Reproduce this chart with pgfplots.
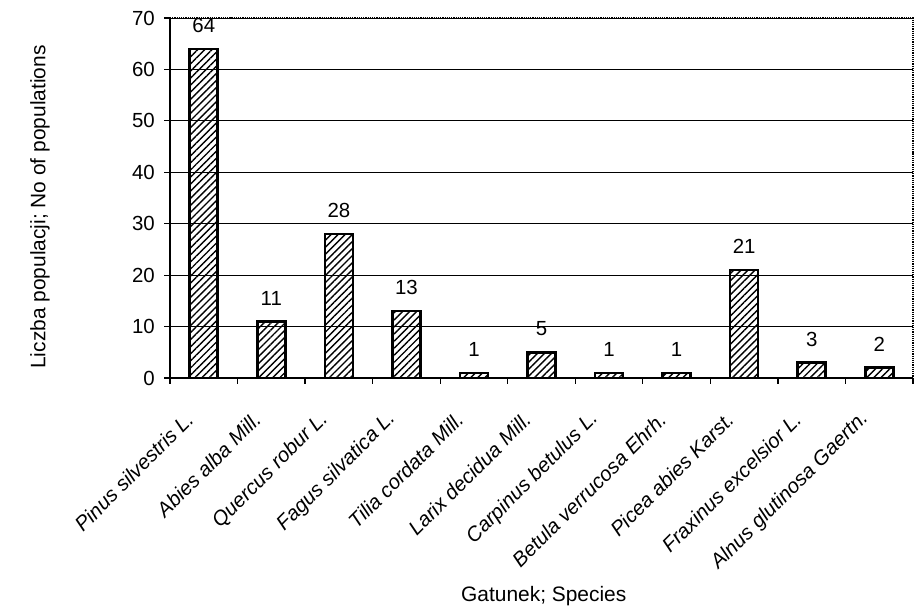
\documentclass[border=0pt]{standalone}
\usepackage{pgfplots}
\pgfplotsset{compat=1.18}
\usetikzlibrary{patterns.meta}
\usepackage{fontspec}
\setmainfont{Liberation Sans}
\begin{document}
\begin{tikzpicture}[x=1bp,y=1bp]
\useasboundingbox (0,0) rectangle (919,608);
\begin{axis}[
  at={(170bp,230bp)}, anchor=south west,
  width=743bp, height=360bp, scale only axis,
  xmin=-0.5, xmax=10.5, ymin=0, ymax=70,
  ytick={0,10,...,70},
  xtick={0,...,10},
  minor xtick={-0.5,0.5,...,10.5},
  xticklabels={Pinus silvestris L.,Abies alba Mill.,Quercus robur L.,Fagus silvatica L.,Tilia cordata Mill.,Larix decidua Mill.,Carpinus betulus L.,Betula verrucosa Ehrh.,Picea abies Karst.,Fraxinus excelsior L.,Alnus glutinosa Gaertn.},
  xtick pos=bottom, ytick pos=left,
  tick align=outside,
  major tick length=6bp, minor tick length=6bp,
  major x tick style={draw=none},
  minor x tick style={black, line width=1.2bp},
  y tick style={black, line width=1.2bp},
  ymajorgrids, grid style={black, line width=0.9bp},
  axis line style={draw=none},
  tick label style={font=\fontsize{20.5}{24}\selectfont},
  /pgf/number format/assume math mode=true,
  xticklabel style={xshift=-14bp, yshift=-32bp, rotate=45, anchor=east, inner sep=0pt, font=\fontsize{20.5}{24}\selectfont\itshape},
  yticklabel style={inner sep=9bp},
  every axis x label/.style={at={(axis description cs:0.503,-0.605)}, anchor=center},
  every axis y label/.style={at={(axis description cs:-0.175,0.475)}, anchor=center, rotate=90},
  label style={font=\fontsize{21}{24}\selectfont},
  xlabel={Gatunek; Species},
  ylabel={Liczba populacji; No of populations},
  clip=false,
]
\addplot[ybar, bar width=28bp, draw=black, line width=2.6bp,
  pattern={Lines[angle=45,distance=5bp,line width=1.4bp]},
  nodes near coords,
  every node near coord/.append style={anchor=south, inner sep=0pt, yshift=15bp, font=\fontsize{20.5}{24}\selectfont},
] coordinates {(0,64) (1,11) (2,28) (3,13) (4,1) (5,5) (6,1) (7,1) (8,21) (9,3) (10,2)};
\draw[line width=1.2bp, densely dotted] (rel axis cs:0,1) -- (rel axis cs:1,1) -- (rel axis cs:1,0);
\draw[line width=1.8bp] (rel axis cs:0,1) -- (rel axis cs:0,0) -- (rel axis cs:1,0);
\end{axis}
\end{tikzpicture}
\end{document}
